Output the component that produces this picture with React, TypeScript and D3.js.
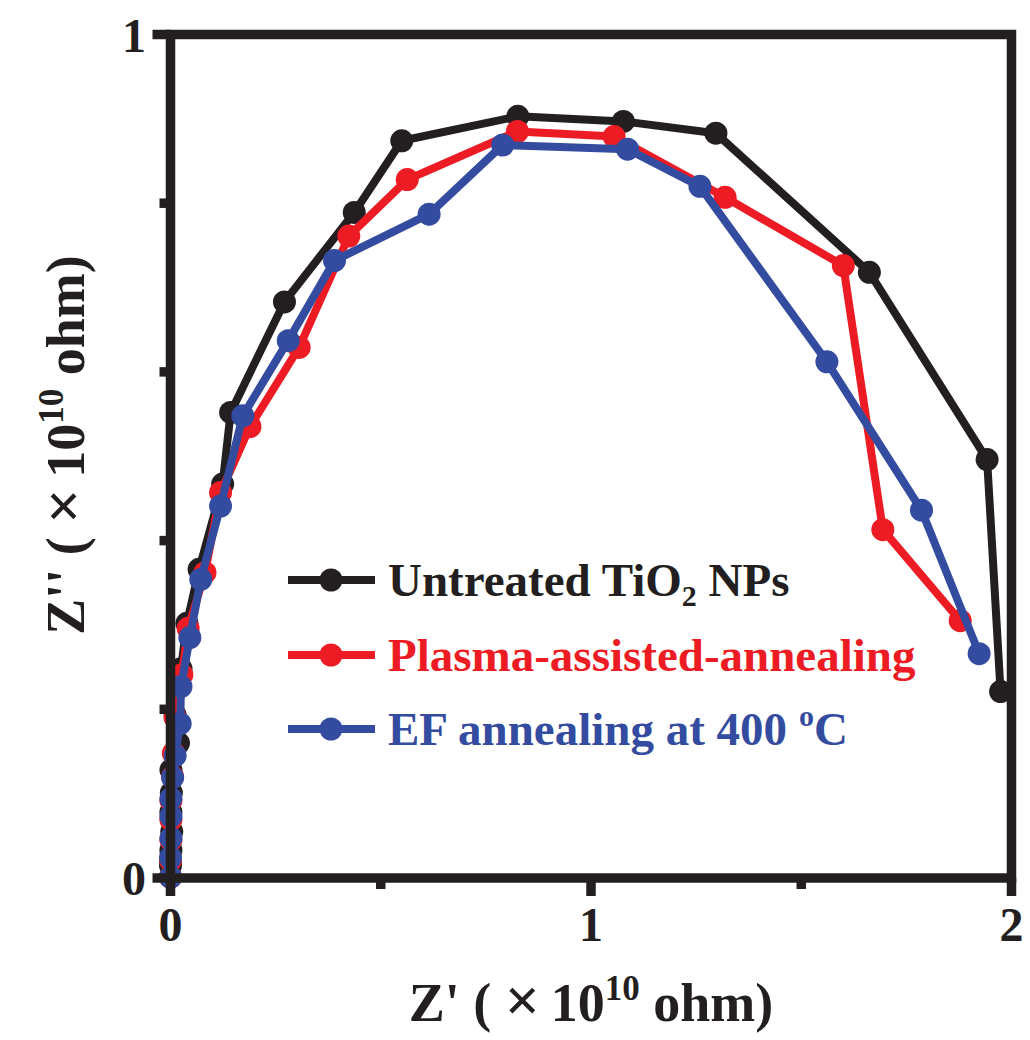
import React from "react";
import * as d3 from "d3";

const untreatedX = [0, 0, 0.001, 0.003, 0.001, 0.002, 0.001, 0.019, 0.011, 0.025, 0.039, 0.068, 0.124, 0.143, 0.271, 0.437, 0.55, 0.826, 1.077, 1.297, 1.662, 1.942, 1.974];
const untreatedY = [0.001, 0.015, 0.033, 0.055, 0.078, 0.101, 0.128, 0.16, 0.193, 0.248, 0.302, 0.366, 0.467, 0.552, 0.683, 0.789, 0.874, 0.903, 0.897, 0.883, 0.718, 0.496, 0.221];
const plasmaX = [0, 0, 0.001, 0.001, 0.001, 0.005, 0.007, 0.011, 0.027, 0.042, 0.082, 0.119, 0.189, 0.306, 0.424, 0.563, 0.825, 1.055, 1.319, 1.6, 1.694, 1.878];
const plasmaY = [0.001, 0.021, 0.045, 0.069, 0.092, 0.12, 0.148, 0.19, 0.241, 0.296, 0.362, 0.457, 0.535, 0.629, 0.761, 0.828, 0.885, 0.879, 0.807, 0.726, 0.413, 0.305];
const efX = [0, 0, 0.001, 0.001, 0.001, 0.005, 0.011, 0.023, 0.025, 0.046, 0.072, 0.119, 0.172, 0.28, 0.39, 0.615, 0.79, 1.087, 1.259, 1.561, 1.786, 1.923];
const efY = [0.001, 0.024, 0.047, 0.073, 0.094, 0.119, 0.145, 0.183, 0.227, 0.285, 0.354, 0.441, 0.548, 0.637, 0.732, 0.787, 0.869, 0.864, 0.82, 0.612, 0.436, 0.266];

const xMajorTicks = [0, 1, 2];
const xMinorTicks = [0.5, 1.5];
const yMajorTicks = [0, 1];
const yMinorTicks = [0.2, 0.4, 0.6, 0.8];

const seriesNames = ["Untreated", "Plasma-assisted-annealing", "EF annealing at 400 oC"];
const seriesColors = ["#231f20", "#ed1c24", "#344ca0"];

const FONT = "'Liberation Serif', 'Times New Roman', serif";

export default function App() {
  const left = 170.5, right = 1011.5, top = 34.5, bottom = 878;
  const x = d3.scaleLinear().domain([0, 2]).range([left, right]);
  const y = d3.scaleLinear().domain([0, 1]).range([bottom, top]);
  const line = d3.line<[number, number]>().x(d => x(d[0])).y(d => y(d[1]));

  const series = [
    untreatedX.map((v, i) => [v, untreatedY[i]] as [number, number]),
    plasmaX.map((v, i) => [v, plasmaY[i]] as [number, number]),
    efX.map((v, i) => [v, efY[i]] as [number, number]),
  ];

  const axisW = 9.5;
  const legendRows = [580, 655, 729];

  return (
    <svg width={1030} height={1040} style={{ position: "absolute", left: 0, top: 0, background: "#fff" }}>
      {series.map((s, si) => (
        <g key={si}>
          <path d={line(s) || ""} fill="none" stroke={seriesColors[si]} strokeWidth={8} strokeLinejoin="round" />
          {s.map((p, i) => (
            <circle key={i} cx={x(p[0])} cy={y(p[1])} r={11.5} fill={seriesColors[si]} />
          ))}
        </g>
      ))}
      {/* frame */}
      <rect x={left} y={top} width={right - left} height={bottom - top} fill="none" stroke="#231f20" strokeWidth={axisW} />
      {xMajorTicks.map(t => (
        <line key={"xM" + t} x1={x(t)} x2={x(t)} y1={bottom} y2={bottom + 18} stroke="#231f20" strokeWidth={axisW} />
      ))}
      {xMinorTicks.map(t => (
        <line key={"xm" + t} x1={x(t)} x2={x(t)} y1={bottom} y2={bottom + 11} stroke="#231f20" strokeWidth={axisW} />
      ))}
      {yMajorTicks.map(t => (
        <line key={"yM" + t} x1={left} x2={left - 18} y1={y(t)} y2={y(t)} stroke="#231f20" strokeWidth={axisW} />
      ))}
      {yMinorTicks.map(t => (
        <line key={"ym" + t} x1={left} x2={left - 11} y1={y(t)} y2={y(t)} stroke="#231f20" strokeWidth={axisW} />
      ))}
      {/* tick labels */}
      <g fontFamily={FONT} fontWeight="bold" fontSize={48} fill="#231f20">
        {xMajorTicks.map(t => (
          <text key={"xl" + t} x={x(t)} y={941} textAnchor="middle">{t}</text>
        ))}
        {yMajorTicks.map(t => (
          <text key={"yl" + t} x={146} y={y(t) + 17} textAnchor="end">{t}</text>
        ))}
      </g>
      {/* axis titles */}
      <text x={591} y={1021} textAnchor="middle" fontFamily={FONT} fontWeight="bold" fontSize={54} fill="#231f20">
        Z' ( <tspan fontSize={62}>×</tspan>{"\u2009"}10<tspan dy={-21} fontSize={35}>10</tspan><tspan dy={21}> ohm)</tspan>
      </text>
      <text transform="translate(84,445) rotate(-90)" textAnchor="middle" fontFamily={FONT} fontWeight="bold" fontSize={54} fill="#231f20">
        Z'' ( <tspan fontSize={62}>×</tspan>{"\u2009"}10<tspan dy={-21} fontSize={35}>10</tspan><tspan dy={21}> ohm)</tspan>
      </text>
      {/* legend */}
      {legendRows.map((ly, i) => (
        <g key={"lg" + i}>
          <line x1={288} x2={375} y1={ly} y2={ly} stroke={seriesColors[i]} strokeWidth={8} />
          <circle cx={331} cy={ly} r={11.5} fill={seriesColors[i]} />
        </g>
      ))}
      <g fontFamily={FONT} fontWeight="bold" fontSize={47}>
        <text x={388} y={legendRows[0] + 16} fill={seriesColors[0]}>
          Untreated TiO<tspan dy={10} fontSize={30}>2</tspan><tspan dy={-10}> NPs</tspan>
        </text>
        <text x={388} y={legendRows[1] + 16} fill={seriesColors[1]}>{seriesNames[1]}</text>
        <text x={388} y={legendRows[2] + 16} fill={seriesColors[2]}>
          EF annealing at 400 <tspan dy={-19} fontSize={30}>o</tspan><tspan dy={19}>C</tspan>
        </text>
      </g>
    </svg>
  );
}
